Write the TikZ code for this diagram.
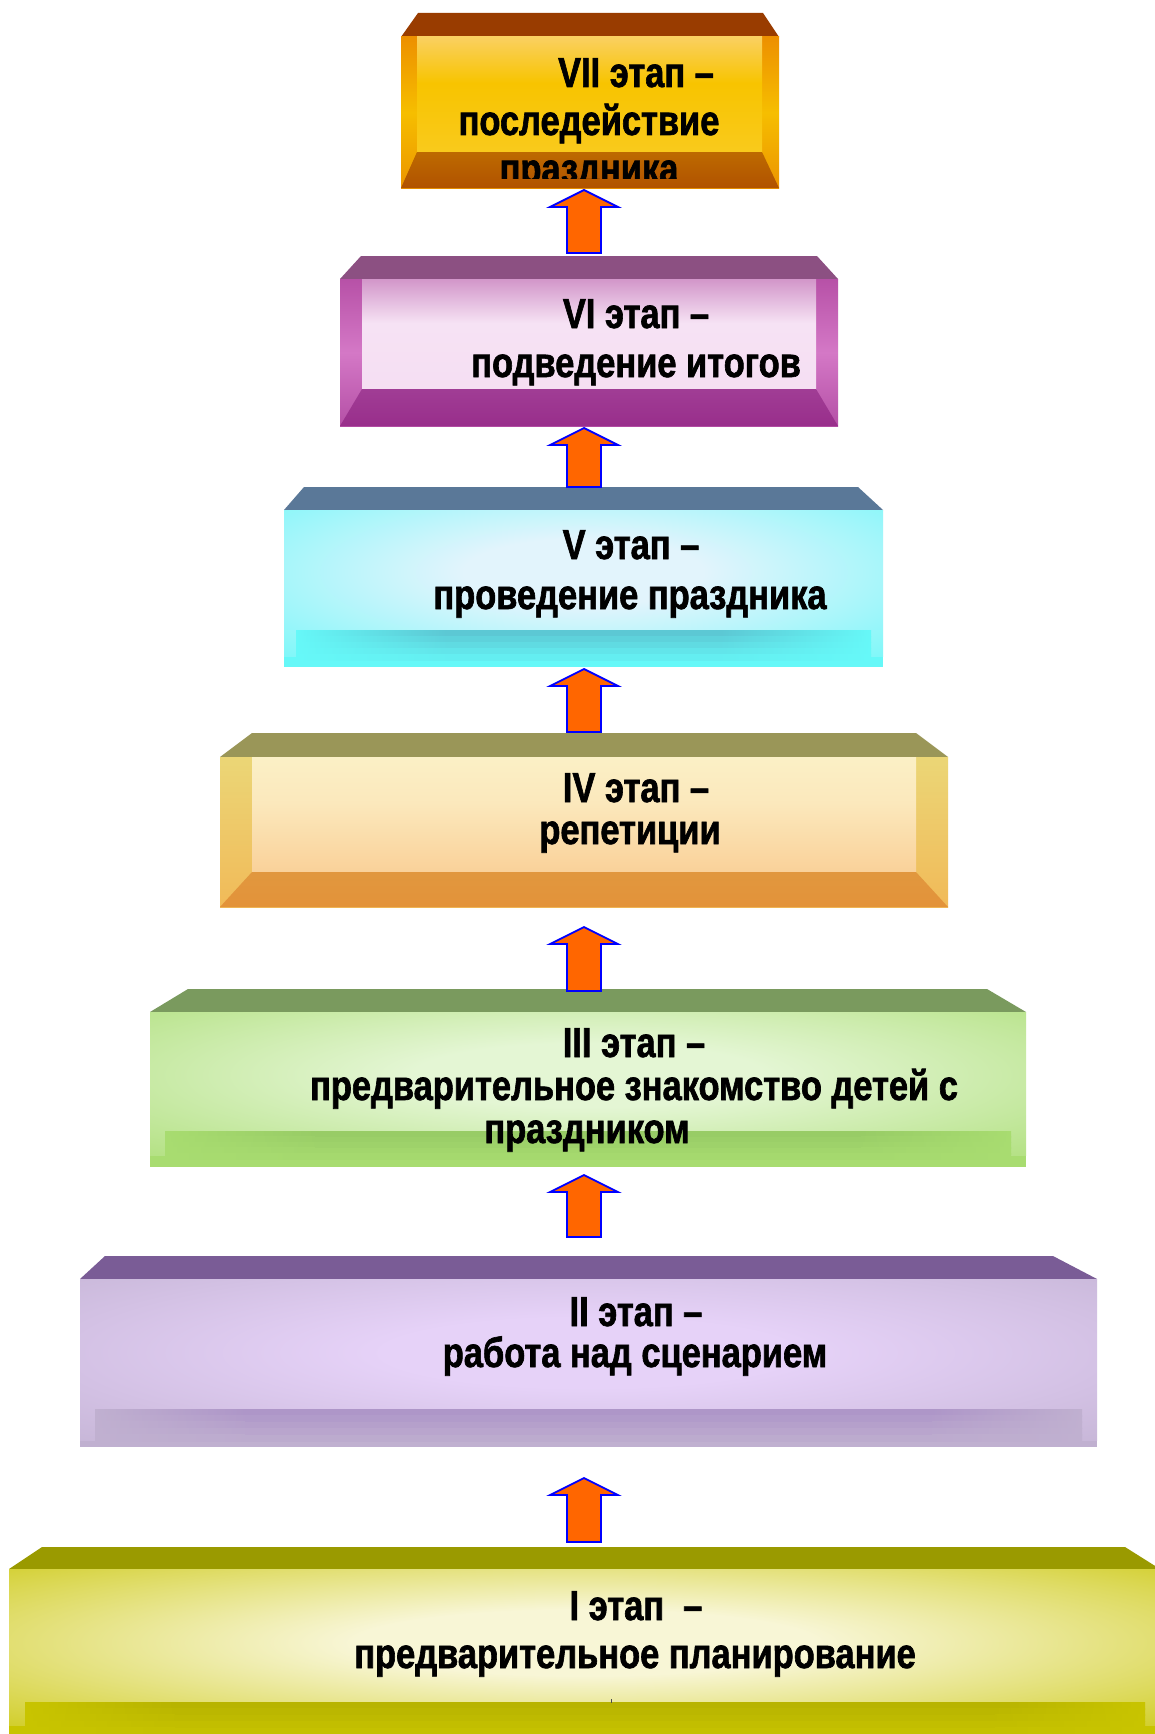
\documentclass[tikz,border=0pt]{standalone}
\usepackage{fontspec}
\newfontfamily\lblfont[FakeStretch=0.82,BoldFeatures={FakeBold=1.5}]{Liberation Sans}
\usetikzlibrary{calc}
% colours
\definecolor{c7top}{HTML}{993C00}
\definecolor{c7s1}{HTML}{E46200}\definecolor{c7s2}{HTML}{F6BE00}\definecolor{c7s3}{HTML}{E26C00}
\definecolor{c7i1}{HTML}{FCE3D2}\definecolor{c7i2}{HTML}{FAD060}\definecolor{c7i3}{HTML}{F8C400}
\definecolor{c7i4}{HTML}{F9CA1C}\definecolor{c7i5}{HTML}{FBDC78}
\definecolor{c7b1}{HTML}{C47600}\definecolor{c7b2}{HTML}{AA4600}
\definecolor{c6top}{HTML}{8C5082}
\definecolor{c6s1}{HTML}{9A2A88}\definecolor{c6s2}{HTML}{D478C6}\definecolor{c6s3}{HTML}{952786}
\definecolor{c6i1}{HTML}{9A2C8A}\definecolor{c6i2}{HTML}{C070B4}\definecolor{c6i3}{HTML}{F6E2F4}
\definecolor{c6i4}{HTML}{F5DEF2}\definecolor{c6i5}{HTML}{EED0EA}
\definecolor{c6b1}{HTML}{A4449A}\definecolor{c6b2}{HTML}{952786}
\definecolor{c5top}{HTML}{5A7898}\definecolor{c5base}{HTML}{66F8F8}\definecolor{c5glow}{HTML}{E2F4FC}\definecolor{c5band}{HTML}{5CC8D4}
\definecolor{c4top}{HTML}{9A9658}
\definecolor{c4s1}{HTML}{E8E484}\definecolor{c4s2}{HTML}{EEC868}\definecolor{c4s3}{HTML}{F4AC48}
\definecolor{c4i1}{HTML}{FCFAD2}\definecolor{c4i2}{HTML}{FBE8BC}\definecolor{c4i3}{HTML}{F8BE7C}
\definecolor{c4b1}{HTML}{E09A40}\definecolor{c4b2}{HTML}{E49038}
\definecolor{c3top}{HTML}{7A9A5E}\definecolor{c3base}{HTML}{A8DC70}\definecolor{c3glow}{HTML}{E4F6D4}\definecolor{c3band}{HTML}{98CC66}
\definecolor{c2top}{HTML}{7A5C96}\definecolor{c2base}{HTML}{C0B0D0}\definecolor{c2glow}{HTML}{E6D2F8}\definecolor{c2band}{HTML}{AE96C8}
\definecolor{c1top}{HTML}{9A9A00}\definecolor{c1base}{HTML}{C8C400}\definecolor{c1glow}{HTML}{F8F6D6}\definecolor{c1band}{HTML}{B8B400}
\definecolor{arrfill}{HTML}{FF6600}\definecolor{arrline}{HTML}{0000FF}
\colorlet{glowin}{white}\colorlet{glowout}{white}
% shadings
\pgfdeclareverticalshading{viiside}{100bp}{color(0bp)=(c7s3); color(50bp)=(c7s2); color(100bp)=(c7s1)}
\pgfdeclareverticalshading{viiinner}{100bp}{color(0bp)=(c7i5); color(25bp)=(c7i4); color(55bp)=(c7i3); color(75bp)=(c7i2); color(100bp)=(c7i1)}
\pgfdeclareverticalshading{viibot}{100bp}{color(0bp)=(c7b2); color(100bp)=(c7b1)}
\pgfdeclareverticalshading{viside}{100bp}{color(0bp)=(c6s3); color(50bp)=(c6s2); color(100bp)=(c6s1)}
\pgfdeclareverticalshading{viinner}{100bp}{color(0bp)=(c6i5); color(20bp)=(c6i4); color(55bp)=(c6i3); color(85bp)=(c6i2); color(100bp)=(c6i1)}
\pgfdeclareverticalshading{vibot}{100bp}{color(0bp)=(c6b2); color(100bp)=(c6b1)}
\pgfdeclareverticalshading{ivside}{100bp}{color(0bp)=(c4s3); color(50bp)=(c4s2); color(100bp)=(c4s1)}
\pgfdeclareverticalshading{ivinner}{100bp}{color(0bp)=(c4i3); color(55bp)=(c4i2); color(100bp)=(c4i1)}
\pgfdeclareverticalshading{ivbot}{100bp}{color(0bp)=(c4b2); color(100bp)=(c4b1)}
\pgfdeclareradialshading[glowin,glowout]{glow}{\pgfpoint{0bp}{0bp}}{color(0bp)=(glowin); color(10bp)=(glowin); color(42bp)=(glowout); color(50bp)=(glowout)}
\tikzset{
  lbl/.style={anchor=base, inner sep=0pt, font=\lblfont\bfseries\fontsize{42}{48}\selectfont, text=black},
  arrowbody/.style={fill=arrfill, draw=arrline, line width=1.8pt, line join=miter},
}
% soft shadow band: #1 base, #2 band colour, #3 x1, #4 x2, #5 top y, #6 height
\newcommand\softband[6]{%
  \foreach \k in {0,...,4}{%
    \pgfmathtruncatemacro\pct{100-20*\k}%
    \colorlet{bcur}{#2!\pct!#1}%
    \shade[left color=#1, right color=bcur] (#3,{#5+\k*#6/5}) rectangle ({#3+150},{#5+(\k+1)*#6/5+0.6});
    \fill[bcur] ({#3+149.5},{#5+\k*#6/5}) rectangle ({#4-149.5},{#5+(\k+1)*#6/5+0.6});
    \shade[left color=bcur, right color=#1] ({#4-150},{#5+\k*#6/5}) rectangle (#4,{#5+(\k+1)*#6/5+0.6});
  }}
\newcommand\blockarr[2]{%
  \filldraw[arrowbody] (#2) -- ($(#2)+(34,17)$) -- ($(#2)+(17,17)$) -- ($(#1)+(17,0)$)
    -- ($(#1)+(-17,0)$) -- ($(#2)+(-17,17)$) -- ($(#2)+(-34,17)$) -- cycle;}
\begin{document}
\begin{tikzpicture}[x=1pt,y=-1pt]
\useasboundingbox (0,0) rectangle (1155,1734);
\fill[white] (0,0) rectangle (1155,1734);

% ===== Box VII
\fill[c7top] (401,37) -- (418,13) -- (763,13) -- (779,37) -- cycle;
\shade[shading=viiside] (401,37) rectangle (779,188);
\shade[shading=viiinner] (417,37) rectangle (762,152);
\shade[shading=viibot] (417,152) -- (762,152) -- (779,188) -- (401,188) -- cycle;
\node[lbl] (t7a) at (636,87) {VII этап –};
\node[lbl] (t7b) at (589,135) {последействие};
\begin{scope}
  \clip (401,37) rectangle (779,178);
  \node[lbl] (t7c) at (589,183) {праздника};
\end{scope}

% ===== Box VI
\fill[c6top] (340,279) -- (361,256) -- (817,256) -- (838,279) -- cycle;
\shade[shading=viside] (340,279) rectangle (838,426);
\shade[shading=viinner] (362,279) rectangle (816,389);
\shade[shading=vibot] (362,389) -- (816,389) -- (838,426) -- (340,426) -- cycle;
\node[lbl] (t6a) at (636,328) {VI этап –};
\node[lbl] (t6b) at (636,377) {подведение итогов};

% ===== Box V
\fill[c5top] (284,510) -- (304,487) -- (858,487) -- (883,510) -- cycle;
\fill[c5base] (284,510) rectangle (883,667);
\begin{scope}
  \clip (284,510) rectangle (883,667);
  \colorlet{glowin}{c5glow}\colorlet{glowout}{c5base}
  \shade[shading=glow] (284,488) rectangle (883,656);
  \softband{c5base}{c5band}{296}{871}{630}{30}
\end{scope}
\node[lbl] (t5a) at (631,559) {V этап –};
\node[lbl] (t5b) at (630,609) {проведение праздника};

% ===== Box IV
\fill[c4top] (220,757) -- (252,733) -- (916,733) -- (948,757) -- cycle;
\shade[shading=ivside] (220,757) rectangle (948,907);
\shade[shading=ivinner] (252,757) rectangle (916,872);
\shade[shading=ivbot] (252,872) -- (916,872) -- (948,907) -- (220,907) -- cycle;
\node[lbl] (t4a) at (636,802) {IV этап –};
\node[lbl] (t4b) at (630,844) {репетиции};

% ===== Box III
\fill[c3top] (150,1012) -- (188,989) -- (987,989) -- (1026,1012) -- cycle;
\fill[c3base] (150,1012) rectangle (1026,1167);
\begin{scope}
  \clip (150,1012) rectangle (1026,1167);
  \colorlet{glowin}{c3glow}\colorlet{glowout}{c3base}
  \shade[shading=glow] (150,995) rectangle (1026,1155);
  \softband{c3base}{c3band}{165}{1011}{1131}{28}
\end{scope}
\node[lbl] (t3a) at (634,1057) {III этап –};
\node[lbl] (t3b) at (634,1100) {предварительное знакомство детей с};
\node[lbl] (t3c) at (587,1143) {праздником};

% ===== Box II
\fill[c2top] (80,1279) -- (105,1256) -- (1053,1256) -- (1097,1279) -- cycle;
\fill[c2base] (80,1279) rectangle (1097,1447);
\begin{scope}
  \clip (80,1279) rectangle (1097,1447);
  \colorlet{glowin}{c2glow}\colorlet{glowout}{c2base}
  \shade[shading=glow] (80,1265) rectangle (1097,1440);
  \softband{c2base}{c2band}{95}{1082}{1409}{32}
\end{scope}
\node[lbl] (t2a) at (636,1326) {II этап –};
\node[lbl] (t2b) at (635,1367) {работа над сценарием};

% ===== Box I
\fill[c1top] (9,1569) -- (42,1547) -- (1125,1547) -- (1160,1569) -- cycle;
\fill[c1base] (9,1569) rectangle (1160,1740);
\begin{scope}
  \clip (9,1569) rectangle (1160,1740);
  \colorlet{glowin}{c1glow}\colorlet{glowout}{c1base}
  \shade[shading=glow] (9,1560) rectangle (1160,1725);
  \softband{c1base}{c1band}{25}{1145}{1702}{32}
\end{scope}
\node[lbl] (t1a) at (636,1620) {I этап~~–};
\node[lbl] (t1b) at (635,1668) {предварительное планирование};
\draw[black!70, line width=0.8pt] (611,1699) -- (611,1703);

% ===== Arrows
\coordinate (a1s) at (584,253);  \coordinate (a1e) at (584,190);
\coordinate (a2s) at (584,487);  \coordinate (a2e) at (584,428);
\coordinate (a3s) at (584,732);  \coordinate (a3e) at (584,669);
\coordinate (a4s) at (584,991);  \coordinate (a4e) at (584,927);
\coordinate (a5s) at (584,1237); \coordinate (a5e) at (584,1175);
\coordinate (a6s) at (584,1542); \coordinate (a6e) at (584,1478);
\blockarr{a1s}{a1e}
\blockarr{a2s}{a2e}
\blockarr{a3s}{a3e}
\blockarr{a4s}{a4e}
\blockarr{a5s}{a5e}
\blockarr{a6s}{a6e}
\end{tikzpicture}
\end{document}
